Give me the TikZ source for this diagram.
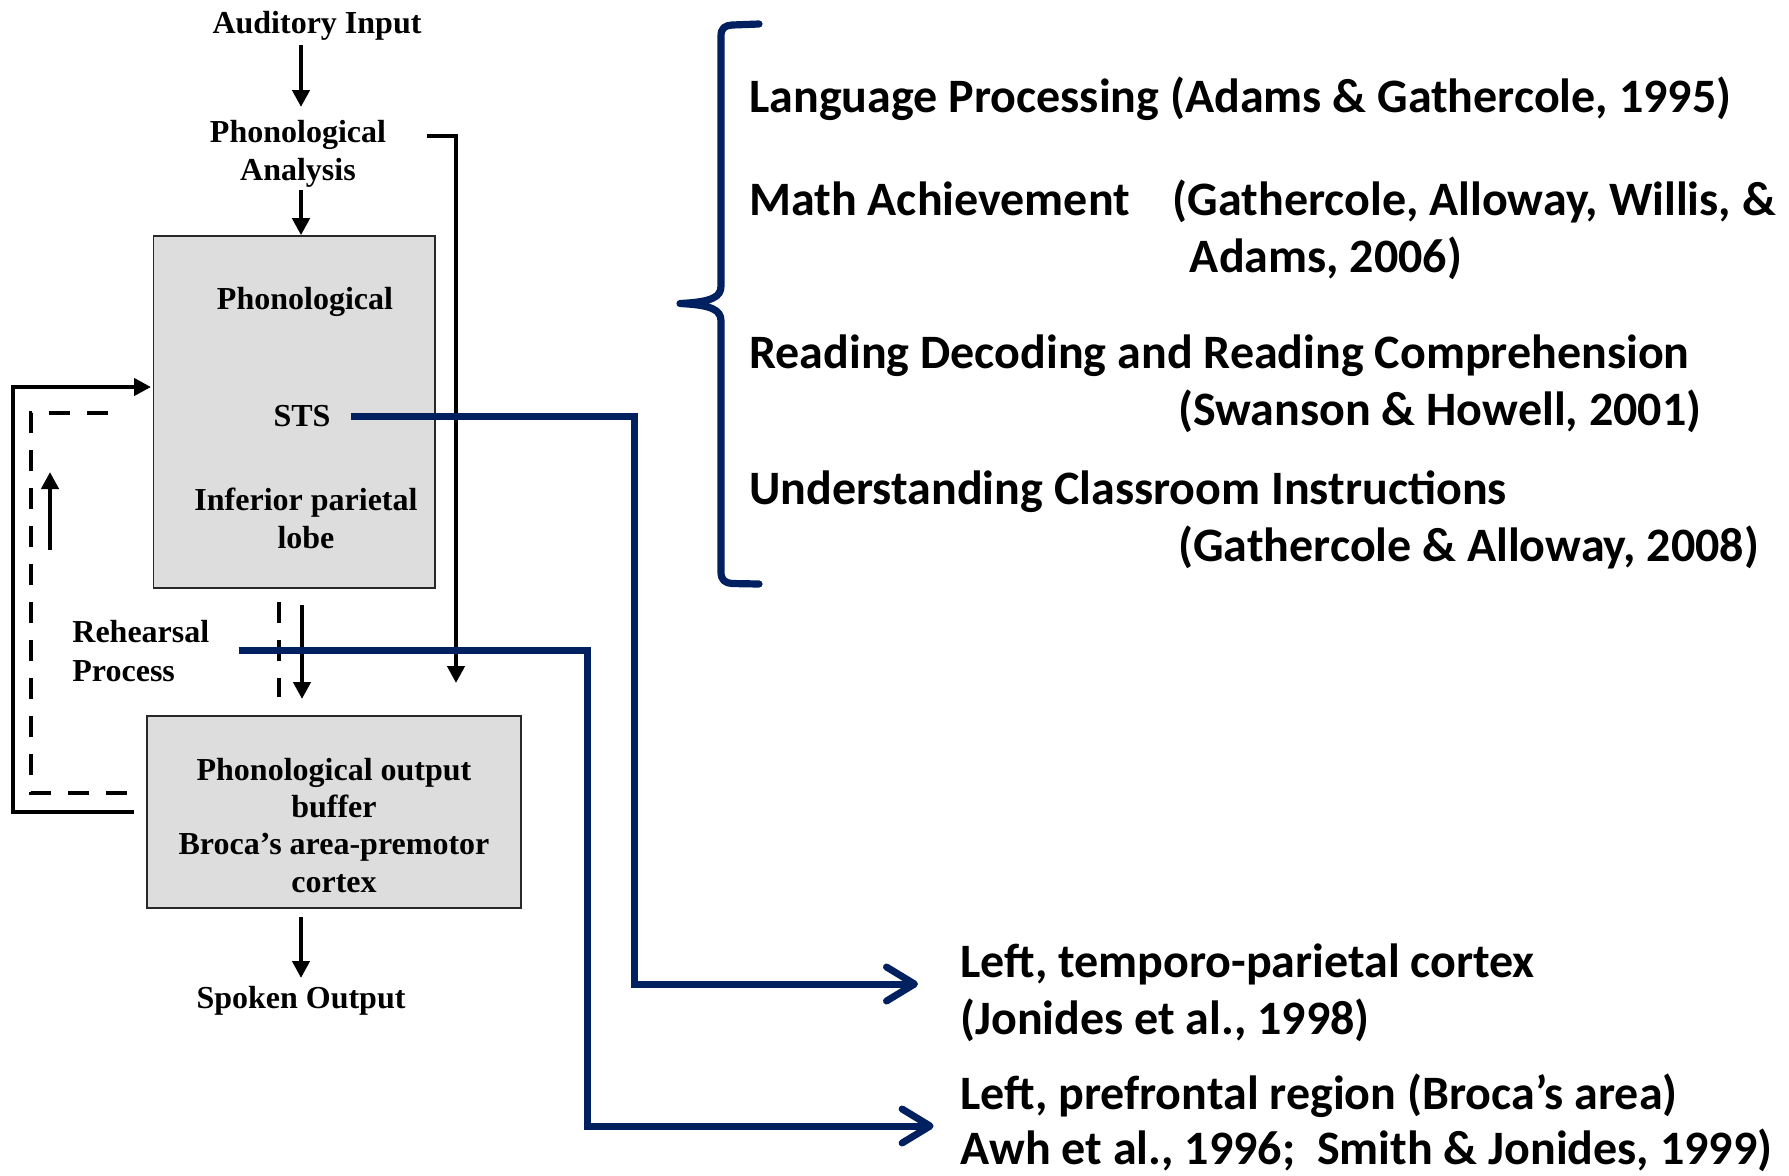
\documentclass[tikz,border=0pt]{standalone}
\usepackage{fontspec}
\setmainfont{Liberation Serif}
\newfontfamily\calib{Carlito}
\usetikzlibrary{arrows.meta}
\definecolor{navy}{RGB}{0,32,96}
\definecolor{boxgray}{RGB}{221,221,221}
\definecolor{boxline}{RGB}{40,40,40}

\begin{document}
\begin{tikzpicture}[x=0.5pt,y=-0.5pt,
  lbl/.style={inner sep=0pt, font=\bfseries\fontsize{16}{19}\selectfont},
  outlbl/.style={inner sep=0pt, font=\bfseries\fontsize{16}{18.7}\selectfont},
  ref/.style={inner sep=0pt, anchor=base west, font=\calib\bfseries\fontsize{24}{28.5}\selectfont},
  grybox/.style={draw=boxline, fill=boxgray, line width=0.8pt, inner sep=0pt},
  flow/.style={line width=2.3pt, line join=miter, -{Triangle[length=8.5pt,width=8.5pt]}},
  dashline/.style={line width=2.3pt, dash pattern=on 10.5pt off 8.5pt},
  blueconn/.style={draw=navy, line width=3.5pt, line join=miter,
    -{Straight Barb[length=14pt,width=17pt,line width=3.5pt,round]}},
  bracestyle/.style={draw=navy, line width=3.6pt, line cap=round, line join=round}]
\useasboundingbox (0,0) rectangle (1789,1175);

% ---- boxes ----
\node[grybox, minimum width=140.7pt, minimum height=176pt] (stbox) at (294.3,412) {};
\node[grybox, minimum width=187pt, minimum height=96pt] (outbox) at (334,812) {};

% ---- left labels ----
\node[lbl, anchor=base] (aud) at (317,33) {Auditory Input};
\node[lbl, anchor=base] (pan) at (298,142) {\begin{tabular}[t]{@{}c@{}}Phonological\\Analysis\end{tabular}};
\node[lbl, anchor=base] (phon) at (305,309) {Phonological};
\node[lbl, anchor=base] (sts) at (302,426) {STS};
\node[lbl, anchor=base] (ipl) at (306,510) {\begin{tabular}[t]{@{}c@{}}Inferior parietal\\lobe\end{tabular}};
\node[lbl, anchor=base west] (reh) at (72,642) {\begin{tabular}[t]{@{}l@{}}Rehearsal\\[0.5pt]Process\end{tabular}};
\node[outlbl, anchor=base] (outtxt) at (334,780) {\begin{tabular}[t]{@{}c@{}}Phonological output\\buffer\\Broca’s area-premotor\\cortex\end{tabular}};
\node[lbl, anchor=base] (spk) at (301,1008) {Spoken Output};

% ---- right labels ----
\node[ref] (lang) at (749,112) {Language Processing (Adams \& Gathercole, 1995)};
\node[ref] (math) at (749,215) {Math Achievement};
\node[ref] (mathc) at (1172.5,215) {\begin{tabular}[t]{@{}l@{}}(Gathercole, Alloway, Willis, \&\\\hspace{8.5pt}Adams, 2006)\end{tabular}};
\node[ref] (read) at (749,368) {\begin{tabular}[t]{@{}l@{}}Reading Decoding and Reading Comprehension\\\hspace{214.5pt}(Swanson \& Howell, 2001)\end{tabular}};
\node[ref] (und) at (749,504) {\begin{tabular}[t]{@{}l@{}}Understanding Classroom Instructions\\\hspace{214.5pt}(Gathercole \& Alloway, 2008)\end{tabular}};
\node[ref] (tpc) at (960,977) {\begin{tabular}[t]{@{}l@{}}Left, temporo-parietal cortex\\(Jonides et al., 1998)\end{tabular}};
\node[ref] (pfr) at (960,1109) {\begin{tabular}[t]{@{}l@{}}Left, prefrontal region (Broca’s area)\\[-1pt]Awh et al., 1996;\ \ Smith \& Jonides, 1999)\end{tabular}};

% ---- connector end points ----
\coordinate (audout) at (301,45);
\coordinate (panin) at (301,107);
\coordinate (panout) at (301,190);
\coordinate (bypassstart) at (427,136);
\coordinate (bypassend) at (456,683);
\coordinate (stsout) at (351,416);
\coordinate (tpcin) at (918,984);
\coordinate (rehout) at (238.5,650);
\coordinate (pfrin) at (933.6,1126);
\coordinate (downstart) at (302,605);
\coordinate (downend) at (302,699);
\coordinate (dashtop) at (279,602);
\coordinate (dashbot) at (279,697);
\coordinate (loopstart) at (134,812);
\coordinate (loopcorner) at (13,387);
\coordinate (loopend) at (151,387);
\coordinate (dloopstart) at (127,793);
\coordinate (dloopcorner) at (31,413);
\coordinate (dloopend) at (123,413);
\coordinate (uptail) at (50,550);
\coordinate (uphead) at (50,472);
\coordinate (spkin) at (301,978);
\coordinate (bufout) at (301,917);

% ---- black flow ----
\draw[flow] (audout) -- (panin);
\draw[flow] (panout) -- (stbox.north -| panout);
\draw[flow] (bypassstart) -| (bypassend);
\draw[flow] (downstart) -- (downend);
\draw[dashline] (dashtop) -- (dashbot);
\draw[flow] (bufout) -- (spkin);

% rehearsal loops
\draw[flow] (loopstart) -| (loopcorner) -- (loopend);
\draw[dashline] (dloopstart) -| (dloopcorner) -- (dloopend);
\draw[flow] (uptail) -- (uphead);

% ---- blue links to cortical regions ----
\draw[blueconn] (stsout) -| (634,984) -- (tpcin);
\draw[blueconn] (rehout) -| (587,1126) -- (pfrin);

% ---- brace ----
\draw[bracestyle] (759,24) -- (732,25) .. controls (725,25.5) and (721,28) .. (721,36)
  -- (721,286) .. controls (721,297) and (712,302) .. (680,303.5)
  .. controls (712,305) and (721,310) .. (721,321)
  -- (721,572) .. controls (721,580) and (725,583) .. (732,583.5) -- (759,584);
\end{tikzpicture}
\end{document}
